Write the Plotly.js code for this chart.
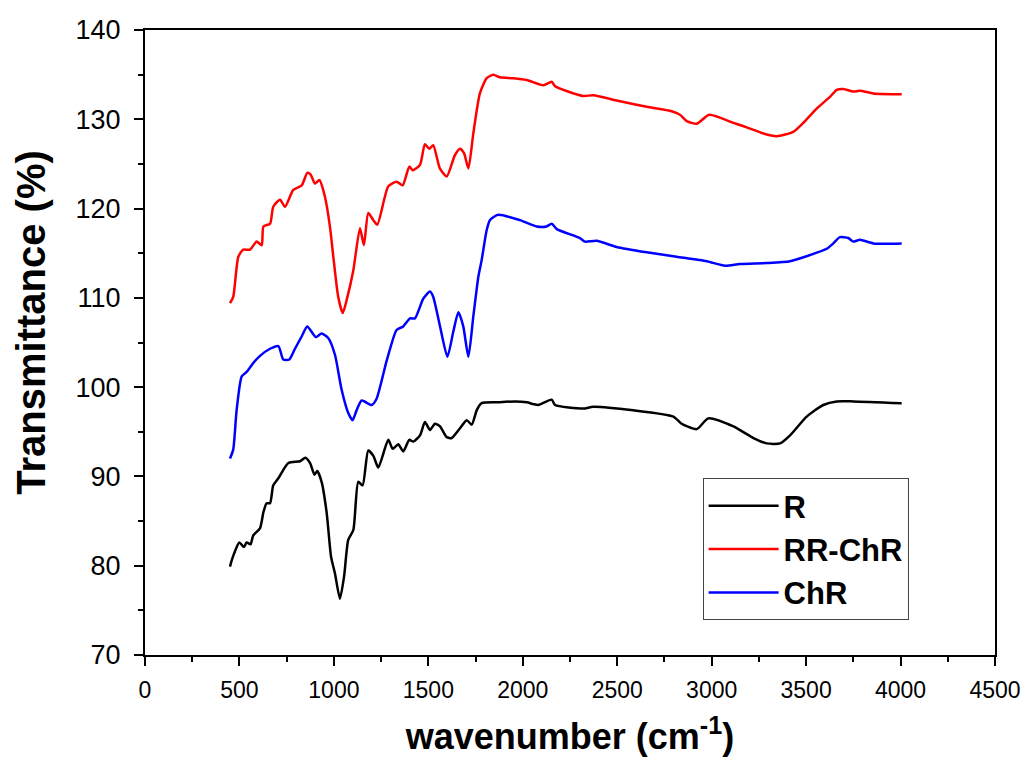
<!DOCTYPE html>
<html>
<head>
<meta charset="utf-8">
<script src="https://cdn.plot.ly/plotly-3.0.1.min.js"></script>
<style>html,body{margin:0;padding:0;background:#fff}#chart{width:1034px;height:763px}</style>
</head>
<body>
<div id="chart"></div>
<script>
// R (black)
const rX = [450,459,476,499,524,538,559,573,609,627,644,662,679,706,759,821,849,874,897,912,935,962,985,1006,1032,1054,1076,1103,1129,1152,1182,1209,1235,1288,1311,1341,1367,1399,1420,1456,1482,1509,1535,1562,1597,1624,1668,1703,1730,1756,1782,1862,1959,2021,2056,2082,2153,2171,2320,2373,2585,2797,2841,2921,2982,3115,3221,3291,3362,3415,3503,3591,3662,3750,4006];
const rY = [79.9,80.6,81.6,82.6,82.1,82.6,82.4,83.4,84.2,86.0,87.0,87.0,89.0,89.8,91.5,91.7,92.1,91.5,90.2,90.6,89.4,85.9,81.0,79.1,76.3,78.8,82.9,84.0,89.4,89.0,92.9,92.3,91.0,94.1,93.1,93.6,92.8,94.1,93.9,94.6,96.1,95.2,95.9,95.6,94.4,94.3,95.4,96.3,95.8,97.4,98.2,98.3,98.4,98.3,98.1,98.0,98.6,98.0,97.6,97.8,97.4,96.7,95.9,95.3,96.5,95.6,94.3,93.7,93.7,94.6,96.7,98.0,98.4,98.4,98.2];

// RR-ChR (red)
const rrX = [450,467,494,520,556,591,618,627,662,679,715,741,785,830,859,877,900,923,953,979,997,1023,1047,1068,1103,1138,1159,1182,1209,1230,1288,1332,1364,1399,1417,1456,1482,1505,1526,1561,1597,1641,1668,1689,1712,1738,1773,1809,1844,1879,1950,2021,2109,2153,2171,2320,2373,2497,2656,2788,2832,2868,2921,2987,3115,3185,3274,3344,3432,3485,3556,3626,3662,3697,3750,3785,3856,4006];
const rrY = [109.4,110.1,114.6,115.4,115.4,116.3,115.9,118.0,118.3,120.2,121.0,120.2,122.1,122.6,124.0,123.8,122.8,123.2,121.3,118.0,114.6,110.1,108.3,109.8,113.1,117.8,115.9,119.5,118.7,118.2,122.5,123.0,122.6,124.7,124.3,124.9,127.2,126.7,127.1,124.5,123.6,126.0,126.7,126.2,124.5,128.4,132.9,134.6,135.0,134.7,134.6,134.4,133.8,134.2,133.7,132.6,132.7,132.1,131.4,130.9,130.5,129.8,129.5,130.5,129.6,129.1,128.4,128.1,128.6,129.6,131.2,132.5,133.3,133.4,133.1,133.2,132.9,132.8];

// ChR (blue)
const cX = [450,467,485,512,538,573,609,662,706,732,764,794,830,859,905,935,970,1006,1041,1076,1099,1120,1147,1200,1226,1280,1332,1367,1403,1429,1473,1509,1526,1562,1601,1632,1659,1685,1712,1738,1765,1782,1809,1826,1870,1985,2074,2126,2153,2180,2303,2329,2391,2497,2656,2815,2974,3071,3150,3291,3415,3521,3609,3644,3679,3723,3750,3785,3856,4006];
const cY = [92.0,93.0,97.4,101.2,101.7,102.7,103.5,104.3,104.6,103.1,103.1,104.3,105.7,106.8,105.6,106.0,105.5,103.6,99.7,97.1,96.3,97.4,98.5,98.0,98.7,103.0,106.4,106.8,107.7,107.7,109.9,110.7,110.1,106.8,103.4,106.2,108.4,106.8,103.4,107.9,112.4,114.2,117.6,118.7,119.3,118.7,118.0,118.0,118.3,117.7,116.7,116.3,116.4,115.7,115.1,114.6,114.1,113.6,113.8,113.9,114.1,114.8,115.5,116.1,116.8,116.7,116.3,116.5,116.1,116.1];

const seriesNames = ['R','RR-ChR','ChR'];
const xTickVals = [0,500,1000,1500,2000,2500,3000,3500,4000,4500];
const yTickVals = [70,80,90,100,110,120,130,140];

const FONT = 'Liberation Sans, Arial, sans-serif';
const traces = [
  {x:rX, y:rY, name:seriesNames[0], type:'scatter', mode:'lines', line:{color:'#000000', width:2.5, shape:'spline', smoothing:0.6}},
  {x:rrX, y:rrY, name:seriesNames[1], type:'scatter', mode:'lines', line:{color:'#ff0000', width:2.5, shape:'spline', smoothing:0.6}},
  {x:cX, y:cY, name:seriesNames[2], type:'scatter', mode:'lines', line:{color:'#0000ff', width:2.5, shape:'spline', smoothing:0.6}}
];

const layout = {
  width:1034, height:763,
  margin:{l:145, r:39, t:30, b:108},
  paper_bgcolor:'#fff', plot_bgcolor:'#fff',
  showlegend:true,
  legend:{x:0.656, y:0.283, xanchor:'left', yanchor:'top', bordercolor:'#444', borderwidth:1, bgcolor:'rgba(255,255,255,0)',
          font:{family:FONT, size:31, color:'#000', weight:'bold'},
          itemwidth:70, traceorder:'normal'},
  xaxis:{range:[0,4500], tickvals:xTickVals, ticktext:xTickVals.map(String), showgrid:false, zeroline:false,
         showline:true, linecolor:'#000', linewidth:2, mirror:true,
         ticks:'outside', ticklen:9, tickwidth:2, tickcolor:'#000', ticklabelstandoff:4,
         tickfont:{family:FONT, size:23, color:'#000'},
         minor:{dtick:250, ticks:'outside', ticklen:5, tickwidth:2, tickcolor:'#000', showgrid:false},
         title:{text:'<b>wavenumber (cm<sup>-1</sup>)</b>', font:{family:FONT, size:36, color:'#000'}, standoff:22}},
  yaxis:{range:[70,140], tickvals:yTickVals, ticktext:yTickVals.map(String), showgrid:false, zeroline:false,
         showline:true, linecolor:'#000', linewidth:2, mirror:true,
         ticks:'outside', ticklen:9, tickwidth:2, tickcolor:'#000', ticklabelstandoff:8,
         tickfont:{family:FONT, size:27, color:'#000'},
         minor:{dtick:5, ticks:'outside', ticklen:5, tickwidth:2, tickcolor:'#000', showgrid:false}},
  annotations:[{text:'<b>Transmittance (%)</b>', xref:'paper', yref:'paper', x:-0.135, y:0.532,
                xanchor:'center', yanchor:'middle', textangle:-90, showarrow:false,
                font:{family:FONT, size:40, color:'#000'}}]
};

Plotly.newPlot('chart', traces, layout, {displayModeBar:false, staticPlot:true});
</script>
</body>
</html>
